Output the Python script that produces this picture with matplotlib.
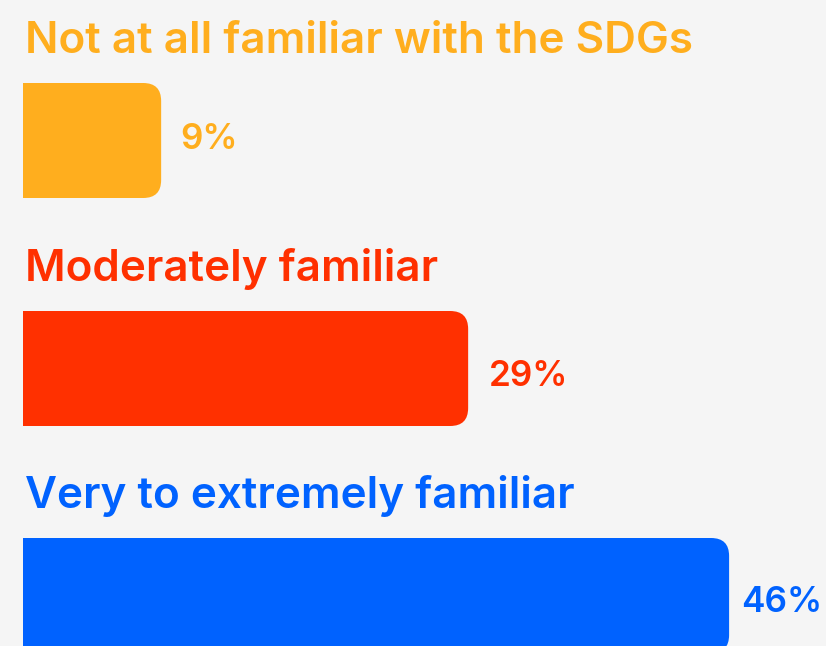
import matplotlib
matplotlib.use("Agg")
import matplotlib.pyplot as plt
from matplotlib.patches import FancyBboxPatch, Rectangle

categories = ["Not at all familiar with the SDGs", "Moderately familiar", "Very to extremely familiar"]
values = [9, 29, 46]
value_labels = ["9%", "29%", "46%"]
colors = ["#FFAE1E", "#FF3000", "#0062FF"]

W, H = 826, 646
k = 15.35          # pixels per percentage point
left_px = 23
bar_tops = [83, 311, 538]   # px from top
bar_h = 115 / k
radius = 18 / k

fig = plt.figure(figsize=(W / 100, H / 100), dpi=100, facecolor="#F5F5F5")
ax = fig.add_axes([0, 0, 1, 1])
ax.set_facecolor("#F5F5F5")
ax.set_xlim(-left_px / k, (W - left_px) / k)
ax.set_ylim(H / k, 0)
ax.set_aspect("equal")
ax.axis("off")

font = dict(family=["Inter", "DejaVu Sans"], fontweight="semibold")
gaps = [19, 21, 12]
lab_dy = [-1, 8, 7]

for i, (cat, v, lab, c) in enumerate(zip(categories, values, value_labels, colors)):
    y0 = bar_tops[i] / k
    # rounded on the right, square on the left
    ax.add_patch(FancyBboxPatch((0, y0), v, bar_h,
                                boxstyle=f"round,pad=0,rounding_size={radius}",
                                fc=c, ec="none", lw=0))
    ax.add_patch(Rectangle((0, y0), v / 2, bar_h, fc=c, ec="none", lw=0))
    ax.text(2 / k, y0 - 30 / k, cat, color=c, fontsize=31.7, va="baseline", ha="left", **font)
    ax.text(v + gaps[i] / k, y0 + bar_h / 2 + lab_dy[i] / k, lab, color=c,
            fontsize=25.3, va="center", ha="left", **font)

fig.savefig("out.png", dpi=100, facecolor=fig.get_facecolor())
